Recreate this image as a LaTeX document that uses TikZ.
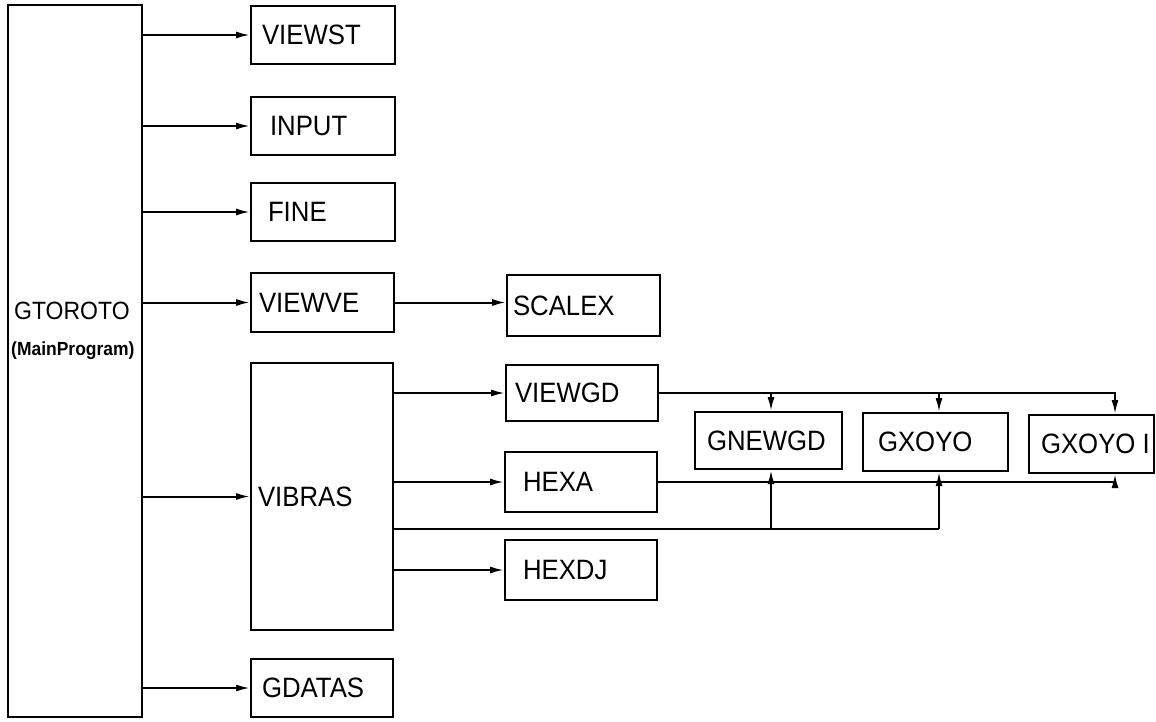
\documentclass[tikz,border=0pt]{standalone}
\usepackage{fontspec}
\setmainfont{Liberation Sans}[FakeStretch=0.92]
\usetikzlibrary{arrows.meta}
\tikzset{
  bx/.style={draw, line width=2pt, inner xsep=0pt, inner ysep=0pt, rectangle,
    font=\fontsize{28}{28}\selectfont},
  ln/.style={line width=2pt},
  arr/.style={line width=2pt, -{Latex[length=14pt,width=7pt]}},
}
\newcommand\boxtxt[3]{\makebox[#1pt][l]{\hspace*{#2pt}#3}}
\begin{document}
\begin{tikzpicture}[x=1pt,y=-1pt]
\fill[white] (0,0) rectangle (1156,721);
\useasboundingbox (0,0) rectangle (1156,721);
% main program box
\node[bx, minimum width=134pt, minimum height=712pt] (main) at (75,361) {};
\node[anchor=west, inner sep=0pt, font=\fontsize{25}{25}\selectfont] (gt) at (14,311) {GTOROTO};
\node[anchor=west, inner sep=0pt, font=\bfseries\fontsize{19}{19}\selectfont] (mp) at (11,351) {(MainProgram)};
% first column
\node[bx, minimum width=144pt, minimum height=58pt] (viewst) at (323,35) {\boxtxt{144}{11}{VIEWST}};
\node[bx, minimum width=144pt, minimum height=58pt] (input) at (323,126) {\boxtxt{144}{19}{INPUT}};
\node[bx, minimum width=144pt, minimum height=58pt] (fine) at (323,212) {\boxtxt{144}{17}{FINE}};
\node[bx, minimum width=143pt, minimum height=59pt] (viewve) at (322.5,302.5) {\boxtxt{143}{8}{VIEWVE}};
\node[bx, minimum width=142pt, minimum height=267pt] (vibras) at (322,496.5) {\boxtxt{142}{7}{VIBRAS}};
\node[bx, minimum width=142pt, minimum height=58pt] (gdatas) at (322,688) {\boxtxt{142}{11}{GDATAS}};
% second column
\node[bx, minimum width=153pt, minimum height=61pt] (scalex) at (583.5,305.5) {\boxtxt{153}{6}{SCALEX}};
\node[bx, minimum width=152pt, minimum height=56pt] (viewgd) at (582,393) {\boxtxt{152}{9}{VIEWGD}};
\node[bx, minimum width=152pt, minimum height=60pt] (hexa) at (581,482) {\boxtxt{152}{18}{HEXA}};
\node[bx, minimum width=152pt, minimum height=60pt] (hexdj) at (581,570) {\boxtxt{152}{18}{HEXDJ}};
% third column
\node[bx, minimum width=147pt, minimum height=57pt] (gnewgd) at (768.5,440.5) {\boxtxt{147}{12}{GNEWGD}};
\node[bx, minimum width=145pt, minimum height=58pt] (gxoyo) at (935.5,442) {\boxtxt{145}{15}{GXOYO}};
\node[bx, minimum width=125pt, minimum height=58pt] (gxoyo1) at (1091.5,444) {\boxtxt{125}{12}{GXOYO I}};
% connectors from main
\draw[arr] (main.east |- viewst.west) -- (viewst.west);
\draw[arr] (main.east |- input.west) -- (input.west);
\draw[arr] (main.east |- fine.west) -- (fine.west);
\draw[arr] (main.east |- viewve.west) -- (viewve.west);
\draw[arr] (main.east |- vibras.west) -- (vibras.west);
\draw[arr] (main.east |- gdatas.west) -- (gdatas.west);
\draw[arr] (viewve.east) -- (viewve.east -| scalex.west);
% from vibras
\draw[arr] (vibras.east |- viewgd.west) -- (viewgd.west);
\draw[arr] (vibras.east |- hexa.west) -- (hexa.west);
\draw[arr] (vibras.east |- hexdj.west) -- (hexdj.west);
\coordinate (b1) at (771,529);
\coordinate (b2) at (939,529);
\coordinate (t1) at (1115,0);
\draw[ln] (vibras.east |- b1) -- (b2);
\draw[arr] (b1) -- (b1 |- gnewgd.south);
\draw[arr] (b2) -- (b2 |- gxoyo.south);
% from viewgd
\draw[arr] (viewgd.east) -| (t1 |- gxoyo1.north);
\draw[arr] (b1 |- viewgd.east) -- (b1 |- gnewgd.north);
\draw[arr] (b2 |- viewgd.east) -- (b2 |- gxoyo.north);
% from hexa
\draw[arr] (hexa.east) -| (t1 |- gxoyo1.south);
\end{tikzpicture}
\end{document}
